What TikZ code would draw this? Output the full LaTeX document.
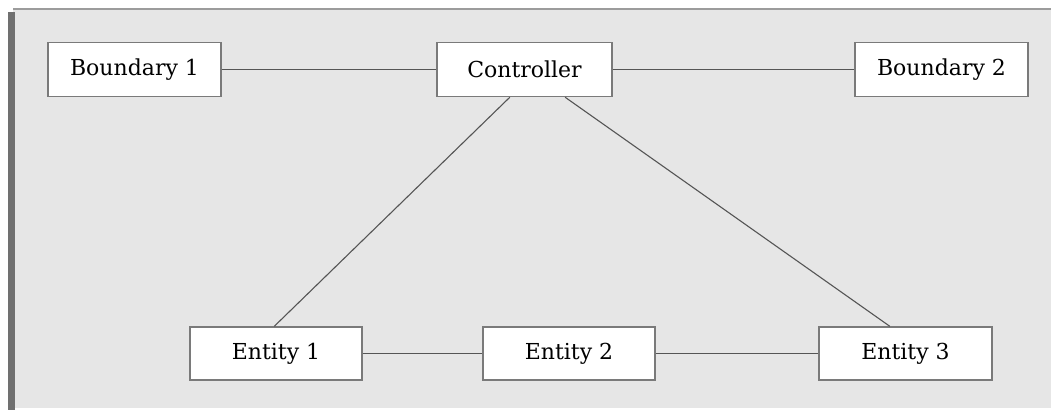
\documentclass[tikz,border=0pt]{standalone}
\usepackage{fontspec}
\setmainfont{DejaVu Serif}
\usetikzlibrary{calc}
\definecolor{panel}{HTML}{E6E6E6}
\definecolor{boxline}{HTML}{7A7A7A}
\definecolor{conn}{HTML}{555555}
\definecolor{leftbar}{HTML}{707070}
\definecolor{topline}{HTML}{9C9C9C}
\begin{document}
\begin{tikzpicture}[x=1pt,y=-1pt,
  box/.style={draw=boxline,line width=1.4pt,fill=white,inner sep=0pt,
    minimum width=173pt,minimum height=54pt,text=black,
    font=\fontsize{22}{26}\selectfont},
  conline/.style={draw=conn,line width=1.1pt}]
\useasboundingbox (0,0) rectangle (1055,410);
\fill[white] (0,0) rectangle (1055,410);
\fill[panel] (13,9) rectangle (1051,408);
\draw[topline,line width=1.5pt] (13,9) -- (1051,9);
\fill[leftbar] (8,12) rectangle (15,410);
\node[box] (b1) at (134.5,69.5) {Boundary 1};
\node[box,minimum width=175pt] (ctrl) at (524.5,69.5) {Controller};
\node[box] (b2) at (941.5,69.5) {Boundary 2};
\node[box,minimum width=172pt,minimum height=53pt] (e1) at (276,353.5) {Entity 1};
\node[box,minimum width=172pt,minimum height=53pt] (e2) at (569,353.5) {Entity 2};
\node[box,minimum height=53pt] (e3) at (905.5,353.5) {Entity 3};
\draw[conline] (b1.east) -- (ctrl.west);
\draw[conline] (ctrl.east) -- (b2.west);
\draw[conline] (e1.east) -- (e2.west);
\draw[conline] (e2.east) -- (e3.west);
\draw[conline] ($(ctrl.south west)!0.417!(ctrl.south east)$) -- ($(e1.north west)!0.49!(e1.north east)$);
\draw[conline] ($(ctrl.south west)!0.73!(ctrl.south east)$) -- ($(e3.north west)!0.41!(e3.north east)$);
\end{tikzpicture}
\end{document}
